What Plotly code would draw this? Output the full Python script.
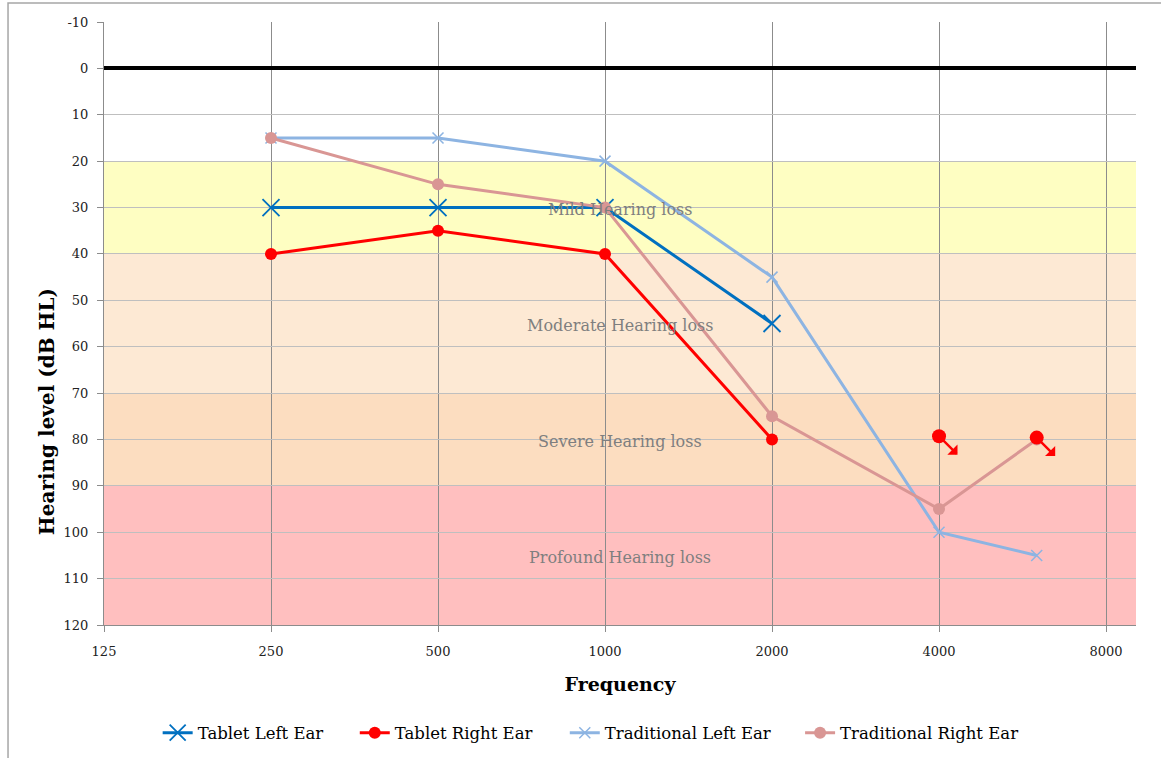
import numpy as np
import plotly.graph_objects as go

# Audiogram data: frequency (Hz) vs hearing level (dB HL)
freqs = [250, 500, 1000, 2000, 4000, 6000]
tablet_left = [30, 30, 30, 55, None, None]
tablet_right = [40, 35, 40, 80, None, None]
tablet_right_noresp_freq = [4000, 6000]
tablet_right_noresp = [79.3, 79.6]
trad_left = [15, 15, 20, 45, 100, 105]
trad_right = [15, 25, 30, 75, 95, 80]

x_ticks = [125, 250, 500, 1000, 2000, 4000, 8000]
y_ticks = list(range(-10, 121, 10))

# Degree-of-loss bands (dB HL limits)
band_names = ["Mild Hearing loss", "Moderate Hearing loss",
              "Severe Hearing loss", "Profound Hearing loss"]
band_low = [20, 40, 70, 90]
band_high = [40, 70, 90, 120]
band_colors = ["#FEFEC2", "#FDE9D4", "#FCDDC0", "#FFBFBF"]

FONT = "DejaVu Serif"

# Each series gets its own legend box so the entries can be spaced out
legend_x = [0.052, 0.243, 0.4465, 0.6745]

fig = go.Figure()

fig.add_trace(go.Scatter(
    x=freqs, y=tablet_left, name="Tablet Left Ear", mode="lines+markers",
    line=dict(color="#0070C0", width=3), legend="legend",
    marker=dict(symbol="x-thin", size=17, line=dict(color="#0070C0", width=1.8)),
))
fig.add_trace(go.Scatter(
    x=freqs, y=tablet_right, name="Tablet Right Ear", mode="lines+markers",
    line=dict(color="#FF0000", width=3), legend="legend2",
    marker=dict(symbol="circle", size=12, color="#FF0000"),
))
fig.add_trace(go.Scatter(
    x=freqs, y=trad_left, name="Traditional Left Ear", mode="lines+markers",
    line=dict(color="#8DB4E2", width=3), legend="legend3",
    marker=dict(symbol="x-thin", size=11, line=dict(color="#8DB4E2", width=1.5)),
))
fig.add_trace(go.Scatter(
    x=freqs, y=trad_right, name="Traditional Right Ear", mode="lines+markers",
    line=dict(color="#D99694", width=3), legend="legend4",
    marker=dict(symbol="circle", size=12, color="#D99694"),
))
# No-response points for the tablet right ear
fig.add_trace(go.Scatter(
    x=tablet_right_noresp_freq, y=tablet_right_noresp, mode="markers",
    showlegend=False,
    marker=dict(symbol="circle", size=14, color="#FF0000"),
))

for f, v in zip(tablet_right_noresp_freq, tablet_right_noresp):
    fig.add_annotation(
        x=np.log10(f), y=v, xref="x", yref="y", text="",
        showarrow=True, ax=20, ay=20, arrowside="start",
        arrowhead=2, arrowsize=1.2, arrowwidth=2.4, arrowcolor="#FF0000",
    )

# Background bands and their labels
for name, lo, hi, col in zip(band_names, band_low, band_high, band_colors):
    fig.add_shape(type="rect", xref="paper", yref="y", x0=0, x1=1, y0=lo, y1=hi,
                  fillcolor=col, line=dict(width=0), layer="below")
    fig.add_annotation(x=0.5, y=(lo + hi) / 2 + 0.4, xref="paper", yref="y",
                       text=name, showarrow=False,
                       font=dict(family=FONT, size=16, color="#7F7F7F"))

# Vertical axis title, set lower than the axis middle
fig.add_annotation(x=-0.0552, y=0.353, xref="paper", yref="paper",
                   text="<b>Hearing level (dB HL)</b>", textangle=-90,
                   showarrow=False, xanchor="center", yanchor="middle",
                   font=dict(family=FONT, size=20, color="#000000"))

# Outer chart frame
fig.add_shape(type="rect", xref="paper", yref="paper",
              x0=-0.093, x1=1.2, y0=-0.4, y1=1.0315,
              line=dict(color="#A6A6A6", width=1.5), fillcolor="rgba(0,0,0,0)",
              layer="below")

fig.update_xaxes(
    type="log", range=[np.log10(125), np.log10(9060)],
    tickvals=x_ticks, ticktext=[str(t) for t in x_ticks],
    showgrid=True, gridcolor="#8C8C8C", gridwidth=1,
    showline=True, linecolor="#8C8C8C", linewidth=1,
    ticks="outside", ticklen=6, tickcolor="#8C8C8C", ticklabelstandoff=8,
    tickfont=dict(family=FONT, size=13, color="#222222"),
    title=dict(text="<b>Frequency</b>", standoff=20,
               font=dict(family=FONT, size=19, color="#000000")),
    zeroline=False, automargin=False,
)
fig.update_yaxes(
    range=[120, -10], tickvals=y_ticks, ticktext=[str(t) for t in y_ticks],
    showgrid=True, gridcolor="#BFBFBF", gridwidth=1,
    showline=True, linecolor="#8C8C8C", linewidth=1,
    ticks="outside", ticklen=6, tickcolor="#8C8C8C", ticklabelstandoff=6,
    tickfont=dict(family=FONT, size=13, color="#222222"),
    zeroline=True, zerolinecolor="#000000", zerolinewidth=3.5,
    automargin=False,
)

legend_style = dict(orientation="h", y=-0.179, xanchor="left", yanchor="middle",
                    font=dict(family=FONT, size=16.5, color="#000000"),
                    bgcolor="rgba(0,0,0,0)", itemwidth=30)

fig.update_layout(
    width=1161, height=758,
    margin=dict(l=104, r=25, t=22, b=133, autoexpand=False),
    plot_bgcolor="#FFFFFF", paper_bgcolor="#FFFFFF",
    font=dict(family=FONT),
    legend=dict(x=legend_x[0], **legend_style),
    legend2=dict(x=legend_x[1], **legend_style),
    legend3=dict(x=legend_x[2], **legend_style),
    legend4=dict(x=legend_x[3], **legend_style),
)

fig.write_html("out.html")
